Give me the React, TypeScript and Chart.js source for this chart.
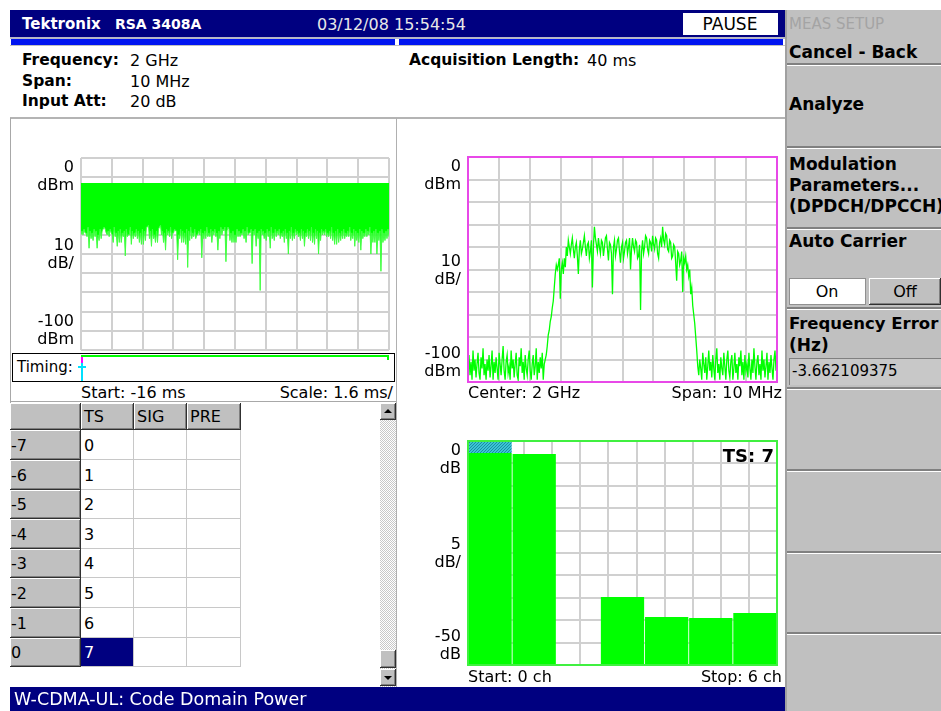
import React, { useEffect, useRef } from "react";
import { Chart, registerables } from "chart.js";

Chart.register(...registerables);

// ---------------- data ----------------
// Power vs time: noise band top edge and lower edge (dBm), -16 ms .. 0 ms
const TIME_START_MS = -16;
const TIME_STOP_MS = 0;
const TIME_TOP_DBM = -13;
const TIME_LOWER_DBM = [
  -40, -38, -40, -37, -39, -39, -41, -36, -47, -38, -42, -39, -43, -37, -41, -38, -47, -40, -43, -37,
  -42, -38, -37, -36, -37, -39, -40, -38, -41, -37, -39, -40, -44, -36, -41, -39, -46, -38, -44, -37,
  -44, -39, -41, -38, -51, -37, -41, -40, -40, -36, -45, -38, -42, -39, -41, -37, -42, -38, -44, -39,
  -45, -37, -45, -38, -43, -36, -36, -35, -42, -38, -46, -37, -42, -40, -44, -38, -44, -37, -36, -35,
  -40, -38, -44, -39, -48, -37, -40, -38, -41, -36, -42, -39, -39, -37, -38, -38, -53, -40, -42, -37,
  -44, -38, -44, -39, -45, -37, -57, -38, -43, -36, -42, -39, -41, -37, -42, -40, -40, -38, -40, -37,
  -52, -39, -42, -38, -42, -36, -41, -39, -41, -37, -44, -38, -40, -37, -41, -39, -48, -38, -42, -36,
  -40, -37, -38, -36, -54, -38, -36, -37, -43, -39, -44, -38, -44, -40, -44, -37, -41, -38, -41, -39,
  -40, -37, -42, -38, -44, -36, -40, -39, -39, -37, -55, -38, -40, -37, -46, -39, -42, -38, -69, -37,
  -40, -38, -42, -39, -43, -37, -41, -38, -47, -36, -42, -39, -43, -37, -41, -38, -40, -37, -42, -39,
  -41, -38, -44, -37, -42, -39, -50, -38, -42, -36, -43, -39, -42, -37, -40, -38, -41, -39, -43, -37,
  -42, -38, -46, -39, -41, -37, -42, -38, -43, -36, -44, -39, -45, -37, -42, -38, -50, -39, -43, -37,
  -40, -38, -40, -37, -41, -39, -41, -38, -42, -36, -43, -39, -45, -38, -45, -37, -44, -39, -43, -38,
  -42, -37, -42, -39, -41, -38, -41, -36, -43, -39, -42, -37, -46, -38, -43, -39, -44, -37, -48, -38,
  -42, -39, -41, -37, -41, -38, -40, -36, -50, -39, -44, -38, -44, -37, -50, -39, -43, -38, -59, -37,
  -44, -39, -43, -38, -42, -37, -41,
];

// Spectrum trace (dBm), center 2 GHz, span 10 MHz -> offsets -5 .. +5 MHz
const SPEC_START_MHZ = -5;
const SPEC_STOP_MHZ = 5;
const SPECTRUM_DBM = [
  // noise floor, left
  -93, -88, -97, -91, -99, -86, -95, -90, -98, -92,
  -87, -96, -99, -89, -94, -85, -97, -92, -99, -90,
  -95, -88, -98, -93, -86, -99, -91, -96, -89, -94,
  -99, -87, -92, -97, -90, -84, -95, -99, -91, -88,
  -96, -93, -99, -86, -94, -90, -98, -92, -87, -97,
  -99, -89, -93, -85, -96, -91, -99, -88, -94, -97,
  -90, -86, -95, -99, -92, -88, -97, -93, -85, -99,
  -91, -96, -89, -94, -87, -99, -92, -90,
  // rising edge
  -88, -84, -79, -77, -73, -71, -67, -64, -58, -52, -48, -50,
  // channel
  -48, -45, -63, -50, -47, -52, -45, -49,
  -40, -44, -37, -40, -43, -39, -36, -41,
  -45, -40, -38, -44, -52, -41, -37, -43,
  -41, -38, -35, -40, -44, -39, -38, -45,
  -42, -37, -58, -40, -31, -36, -39, -42,
  -36, -40, -43, -37, -38, -44, -40, -36,
  -35, -41, -46, -38, -39, -43, -61, -40,
  -37, -44, -41, -37, -36, -42, -47, -40,
  -38, -45, -42, -38, -37, -43, -40, -36,
  -50, -41, -36, -40, -42, -37, -38, -45,
  -44, -39, -68, -42, -37, -43, -40, -35,
  -36, -41, -43, -37, -38, -42, -35, -39,
  -41, -36, -37, -43, -45, -38, -36, -40,
  -31, -37, -39, -34, -35, -41, -42, -37,
  -38, -45, -44, -39, -40, -47, -55, -42,
  -43, -48, -46, -42, -60, -45, -47, -44,
  -50, -48, -53, -50, -61, -58, -66, -70,
  -74, -80, -86, -93,
  // noise floor, right
  -97, -90, -94, -99, -87, -92, -96, -89, -99, -93,
  -86, -95, -91, -98, -88, -94, -99, -90, -85, -96,
  -92, -99, -89, -94, -97, -87, -93, -99, -90, -86,
  -95, -98, -91, -88, -99, -94, -87, -96, -92, -99,
  -89, -93, -86, -97, -91, -99, -88, -95, -92, -98,
  -87, -94, -99, -90, -96, -85, -93, -99, -91, -88,
  -97, -92, -99, -86, -95, -90, -98, -93, -87, -99,
  -91, -96, -88, -94, -99, -90, -86, -95, -84,
];

// Code domain power (dB relative), channels 0..6, timeslot 7
const CDP_CHANNELS = ["0", "1", "2", "3", "4", "5", "6"];
const CDP_DB = [-2.7, -2.9, null, -34.8, -39.3, -39.5, -38.4];
const CDP_MARKER = [[-2.7, 0], null, null, null, null, null, null];

// axis label texts
const TIME_Y_LABELS = [["0", "dBm"], ["10", "dB/"], ["-100", "dBm"]];
const SPEC_Y_LABELS = [["0", "dBm"], ["10", "dB/"], ["-100", "dBm"]];
const CDP_Y_LABELS = [["0", "dB"], ["5", "dB/"], ["-50", "dB"]];

// table
const TABLE_COLUMNS = ["TS", "SIG", "PRE"];
const TABLE_ROW_LABELS = ["-7", "-6", "-5", "-4", "-3", "-2", "-1", "0"];
const TABLE_TS = ["0", "1", "2", "3", "4", "5", "6", "7"];

// ---------------- styles ----------------
const FONT = "'DejaVu Sans', Verdana, sans-serif";
const GREEN = "#00ff00";
const NAVY = "#000080";
const GRID = "#d0d0d0";
const MENU_GRAY = "#c0c0c0";
const BOX3D = "inset -1px -1px #303030, inset 1px 1px #ffffff, inset -2px -2px #808080";

function screenPlugin(labels: string[][], frame: string | null) {
  return {
    id: "screen",
    afterDatasetsDraw(chart: any) {
      const { ctx, chartArea: a, scales } = chart;
      ctx.save();
      if (frame) {
        ctx.strokeStyle = frame;
        ctx.lineWidth = 2;
        ctx.strokeRect(a.left, a.top, a.right - a.left, a.bottom - a.top);
      }
      const y = scales.y;
      ctx.font = `16px ${FONT}`;
      ctx.fillStyle = "#000";
      ctx.textAlign = "right";
      ctx.textBaseline = "middle";
      const anchors = [y.max, (y.max + y.min) / 2, y.min];
      const offs = [[10, 28], [-8, 10], [-28, -10]];
      labels.forEach((lines, k) => {
        const p = y.getPixelForValue(anchors[k]);
        lines.forEach((t, j) => ctx.fillText(t, a.left - 7, p + offs[k][j]));
      });
      ctx.restore();
    },
  };
}

const gridAxis = (min: number, max: number, extra: any = {}) => ({
  type: "linear",
  min,
  max,
  ticks: { display: false, count: 11 },
  grid: { color: GRID, lineWidth: 2, drawTicks: false },
  border: { display: false },
  ...extra,
});

const baseOptions = (padding: any) => ({
  responsive: false,
  animation: false,
  devicePixelRatio: 1,
  layout: { padding },
  events: [],
  plugins: { legend: { display: false }, tooltip: { enabled: false } },
});

function timeConfig() {
  const n = TIME_LOWER_DBM.length;
  const step = (TIME_STOP_MS - TIME_START_MS) / (n - 1);
  return {
    type: "line",
    data: {
      datasets: [
        {
          data: TIME_LOWER_DBM.map((v, i) => ({ x: TIME_START_MS + i * step, y: v })),
          borderColor: "#40ff40",
          backgroundColor: GREEN,
          borderWidth: 1,
          pointRadius: 0,
          tension: 0,
          fill: { value: TIME_TOP_DBM },
        },
      ],
    },
    options: {
      ...baseOptions({ left: 70, right: 6, top: 18, bottom: 2 }),
      scales: { x: gridAxis(TIME_START_MS, TIME_STOP_MS), y: gridAxis(-100, 0) },
    },
    plugins: [screenPlugin(TIME_Y_LABELS, null)],
  };
}

function specConfig() {
  const n = SPECTRUM_DBM.length;
  const step = (SPEC_STOP_MHZ - SPEC_START_MHZ) / (n - 1);
  return {
    type: "line",
    data: {
      datasets: [
        {
          data: SPECTRUM_DBM.map((v, i) => ({ x: SPEC_START_MHZ + i * step, y: v })),
          borderColor: GREEN,
          borderWidth: 1.3,
          pointRadius: 0,
          tension: 0,
          fill: false,
        },
      ],
    },
    options: {
      ...baseOptions({ left: 68, right: 9, top: 17, bottom: 3 }),
      scales: { x: gridAxis(SPEC_START_MHZ, SPEC_STOP_MHZ), y: gridAxis(-100, 0) },
    },
    plugins: [screenPlugin(SPEC_Y_LABELS, "#e848e8")],
  };
}

function dotPattern(canvas: HTMLCanvasElement) {
  const c = document.createElement("canvas");
  c.width = 3;
  c.height = 3;
  const g = c.getContext("2d")!;
  g.fillStyle = "#3cc4d4";
  g.fillRect(0, 0, 3, 3);
  g.fillStyle = "#1a8ea4";
  g.fillRect(0, 0, 1, 1);
  g.fillRect(2, 1, 1, 1);
  g.fillRect(1, 2, 1, 1);
  return canvas.getContext("2d")!.createPattern(c, "repeat");
}

function cdpConfig(canvas: HTMLCanvasElement) {
  return {
    type: "bar",
    data: {
      labels: CDP_CHANNELS,
      datasets: [
        {
          data: CDP_MARKER,
          backgroundColor: dotPattern(canvas),
          grouped: false,
          barPercentage: 0.98,
          categoryPercentage: 1,
        },
        {
          data: CDP_DB,
          base: -50,
          backgroundColor: GREEN,
          grouped: false,
          barPercentage: 0.98,
          categoryPercentage: 1,
        },
      ],
    },
    options: {
      ...baseOptions({ left: 68, right: 9, top: 17, bottom: 4 }),
      scales: {
        x: {
          type: "category",
          ticks: { display: false },
          grid: { display: false, drawTicks: false },
          border: { display: false },
        },
        xg: gridAxis(0, 10, { position: "bottom" }),
        y: gridAxis(-50, 0),
      },
    },
    plugins: [screenPlugin(CDP_Y_LABELS, "#40f040")],
  };
}

function ChartBox({ left, top, width, height, build }: any) {
  const ref = useRef<HTMLCanvasElement>(null);
  useEffect(() => {
    const cv = ref.current!;
    const chart = new Chart(cv, build(cv));
    return () => chart.destroy();
  }, []);
  return (
    <canvas
      ref={ref}
      width={width}
      height={height}
      style={{ position: "absolute", left, top, width, height }}
    />
  );
}

function Txt({ x, y, s, size = 16, bold = false, color = "#000", align = "left" }: any) {
  const h = Math.round(size * 1.3);
  const st: any = {
    position: "absolute",
    top: y - h / 2,
    height: h,
    lineHeight: h + "px",
    fontFamily: FONT,
    fontSize: size,
    fontWeight: bold ? "bold" : "normal",
    color,
    whiteSpace: "nowrap",
  };
  if (align === "right") st.right = 941 - x;
  else if (align === "center") {
    st.left = x;
    st.transform = "translateX(-50%)";
  } else st.left = x;
  return <div style={st}>{s}</div>;
}

function Rect({ x, y, w, h, bg, style }: any) {
  return <div style={{ position: "absolute", left: x, top: y, width: w, height: h, background: bg, ...style }} />;
}

function MenuSep({ y }: any) {
  return (
    <div
      style={{
        position: "absolute",
        left: 787,
        top: y,
        width: 154,
        height: 2,
        background: "#808080",
        borderBottom: "1px solid #ffffff",
      }}
    />
  );
}

function Table() {
  const colX = [10, 81, 134, 187, 241];
  const rowY = [403, 430, 460, 490, 519, 549, 578, 608, 638, 667];
  const cells: any[] = [];
  cells.push(<Rect key="h0" x={colX[0]} y={rowY[0]} w={colX[1] - colX[0]} h={rowY[1] - rowY[0]} bg={MENU_GRAY} style={{ boxShadow: BOX3D }} />);
  TABLE_COLUMNS.forEach((c, j) => {
    cells.push(
      <Rect key={"hc" + j} x={colX[j + 1]} y={rowY[0]} w={colX[j + 2] - colX[j + 1]} h={rowY[1] - rowY[0]} bg={MENU_GRAY} style={{ boxShadow: BOX3D }} />
    );
    cells.push(<Txt key={"ht" + j} x={colX[j + 1] + 3} y={(rowY[0] + rowY[1]) / 2} s={c} />);
  });
  TABLE_ROW_LABELS.forEach((r, i) => {
    const y0 = rowY[i + 1];
    const y1 = rowY[i + 2];
    cells.push(<Rect key={"r" + i} x={colX[0]} y={y0} w={colX[1] - colX[0]} h={y1 - y0} bg={MENU_GRAY} style={{ boxShadow: BOX3D }} />);
    cells.push(<Txt key={"rt" + i} x={colX[0] + 1} y={(y0 + y1) / 2} s={r} />);
    for (let j = 0; j < 3; j++) {
      const sel = j === 0 && i === TABLE_ROW_LABELS.length - 1;
      cells.push(
        <Rect
          key={"c" + i + "_" + j}
          x={colX[j + 1]}
          y={y0}
          w={colX[j + 2] - colX[j + 1]}
          h={y1 - y0}
          bg={sel ? NAVY : "#fff"}
          style={{ boxSizing: "border-box", borderRight: "1px solid #c8c8c8", borderBottom: "1px solid #c8c8c8" }}
        />
      );
      if (j === 0) cells.push(<Txt key={"ct" + i} x={colX[1] + 3} y={(y0 + y1) / 2} s={TABLE_TS[i]} color={sel ? "#fff" : "#000"} />);
    }
  });
  return <>{cells}</>;
}

function Arrow({ x, y, up }: any) {
  return (
    <div
      style={{
        position: "absolute",
        left: x,
        top: y,
        width: 0,
        height: 0,
        borderLeft: "4px solid transparent",
        borderRight: "4px solid transparent",
        ...(up ? { borderBottom: "4px solid #000" } : { borderTop: "4px solid #000" }),
      }}
    />
  );
}

export default function App() {
  return (
    <div
      style={{
        position: "fixed",
        left: 0,
        top: 0,
        width: 941,
        height: 711,
        background: "#fff",
        overflow: "hidden",
        fontFamily: FONT,
      }}
    >
      {/* title bar */}
      <Rect x={10} y={10} w={775} h={27} bg={NAVY} />
      <Txt x={22} y={24} s="Tektronix" size={15} bold color="#fff" />
      <Txt x={115} y={24} s="RSA 3408A" size={14} bold color="#fff" />
      <Txt x={317} y={24} s="03/12/08 15:54:54" size={16} color="#e8e8e8" />
      <Rect x={683} y={13} w={95} h={22} bg="#fff" />
      <Txt x={730} y={24} s="PAUSE" size={17} align="center" />
      <Rect x={10} y={37} w={775} h={2} bg="#b8b8c8" />
      <Rect x={11} y={39} w={384} h={6} bg="#0014f0" />
      <Rect x={399} y={39} w={384} h={6} bg="#0014f0" />
      <Rect x={10} y={45} w={775} h={1} bg="#c0c0c0" />

      {/* setup info */}
      <Txt x={22} y={60} s="Frequency:" size={15.5} bold />
      <Txt x={130} y={60} s="2 GHz" />
      <Txt x={22} y={81} s="Span:" size={15.5} bold />
      <Txt x={130} y={81} s="10 MHz" />
      <Txt x={22} y={101} s="Input Att:" size={15.5} bold />
      <Txt x={130} y={101} s="20 dB" />
      <Txt x={409} y={60} s="Acquisition Length:" size={15.5} bold />
      <Txt x={587} y={60} s="40 ms" />
      <Rect x={10} y={117} w={775} h={2} bg="#b4b4b4" />

      {/* panel borders */}
      <Rect x={10} y={118} w={1} h={285} bg="#a8a8a8" />
      <Rect x={396} y={118} w={1} h={569} bg="#b0b0b0" />

      {/* time-domain chart */}
      <ChartBox left={11} top={140} width={384} height={212} build={() => timeConfig()} />
      <div
        style={{
          position: "absolute",
          left: 12,
          top: 353,
          width: 381,
          height: 27,
          border: "1px solid #000",
        }}
      />
      <Txt x={17} y={367} s="Timing:" size={15} />
      <Rect x={81} y={355} w={308} h={2} bg={GREEN} />
      <Rect x={387} y={355} w={2} h={5} bg={GREEN} />
      <Rect x={81} y={357} w={2} h={24} bg="#00e0ff" />
      <Rect x={78} y={366} w={8} h={2} bg="#00e0ff" />
      <Rect x={81} y={357} w={2} h={6} bg="#ff00ff" />
      <Txt x={81} y={392} s="Start: -16 ms" />
      <Txt x={393} y={392} s="Scale: 1.6 ms/" align="right" />
      <Rect x={10} y={401} w={386} h={1} bg="#a8a8a8" />

      {/* spectrum chart */}
      <ChartBox left={400} top={140} width={386} height={245} build={() => specConfig()} />
      <Txt x={468} y={392} s="Center: 2 GHz" />
      <Txt x={782} y={392} s="Span: 10 MHz" align="right" />

      {/* code domain power */}
      <ChartBox left={400} top={424} width={386} height={245} build={(cv: HTMLCanvasElement) => cdpConfig(cv)} />
      <Txt x={774} y={455} s="TS: 7" size={18} bold align="right" />
      <Txt x={468} y={676} s="Start: 0 ch" />
      <Txt x={782} y={676} s="Stop: 6 ch" align="right" />

      {/* table */}
      <Table />

      {/* scrollbar */}
      <div
        style={{
          position: "absolute",
          left: 380,
          top: 403,
          width: 16,
          height: 284,
          backgroundImage: "repeating-conic-gradient(#c8c8c8 0 25%, #ffffff 0 50%)",
          backgroundSize: "2px 2px",
        }}
      />
      <Rect x={380} y={403} w={16} h={17} bg={MENU_GRAY} style={{ boxShadow: BOX3D }} />
      <Arrow x={384} y={409} up />
      <Rect x={380} y={650} w={16} h={18} bg={MENU_GRAY} style={{ boxShadow: BOX3D }} />
      <Rect x={380} y={669} w={16} h={17} bg={MENU_GRAY} style={{ boxShadow: BOX3D }} />
      <Arrow x={384} y={676} />

      {/* status bar */}
      <Rect x={10} y={687} w={775} h={24} bg={NAVY} />
      <Txt x={14} y={699} s="W-CDMA-UL: Code Domain Power" size={17.5} color="#fff" />

      {/* side menu */}
      <Rect x={785} y={10} w={156} h={701} bg={MENU_GRAY} />
      <Rect x={785} y={10} w={2} h={701} bg="#a0a0a0" />
      <Txt x={789} y={24} s="MEAS SETUP" size={15} color="#a4a4a4" />
      <Txt x={789} y={52} s="Cancel - Back" size={17} bold />
      <MenuSep y={63} />
      <Txt x={789} y={104} s="Analyze" size={17} bold />
      <MenuSep y={146} />
      <Txt x={789} y={164} s="Modulation" size={17} bold />
      <Txt x={789} y={185} s="Parameters..." size={17} bold />
      <Txt x={789} y={206} s="(DPDCH/DPCCH)" size={17} bold />
      <MenuSep y={227} />
      <Txt x={789} y={241} s="Auto Carrier" size={17} bold />
      <Rect x={789} y={278} w={77} h={27} bg="#fff" style={{ boxSizing: "border-box", border: "1px solid #909090" }} />
      <Txt x={827} y={291} s="On" align="center" />
      <Rect x={869} y={278} w={72} h={27} bg={MENU_GRAY} style={{ boxShadow: BOX3D }} />
      <Txt x={905} y={291} s="Off" align="center" />
      <MenuSep y={307} />
      <Txt x={789} y={323} s="Frequency Error" size={16.5} bold />
      <Txt x={789} y={345} s="(Hz)" size={17} bold />
      <Rect
        x={789}
        y={358}
        w={152}
        h={27}
        bg="#c8c8c8"
        style={{ boxSizing: "border-box", borderTop: "1px solid #808080", borderLeft: "1px solid #808080" }}
      />
      <Txt x={792} y={371} s="-3.662109375" size={15} />
      <MenuSep y={387} />
      <MenuSep y={469} />
      <MenuSep y={551} />
      <MenuSep y={632} />
    </div>
  );
}
